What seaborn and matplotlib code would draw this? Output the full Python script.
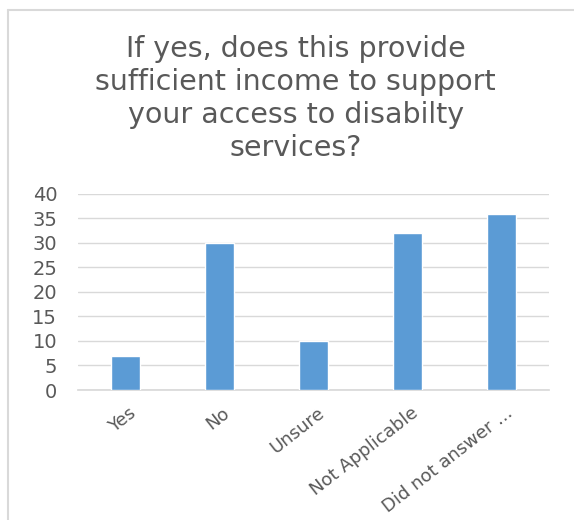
import matplotlib
matplotlib.use("Agg")
import matplotlib.pyplot as plt
from matplotlib.lines import Line2D
from matplotlib.transforms import ScaledTranslation
import seaborn as sns
import pandas as pd

categories = ["Yes", "No", "Unsure", "Not Applicable", "Did not answer ..."]
counts = [7, 30, 10, 32, 36]
y_ticks = [0, 5, 10, 15, 20, 25, 30, 35, 40]
title = "If yes, does this provide\nsufficient income to support\nyour access to disabilty\nservices?"

sns.set_theme(style="white")
plt.rcParams["font.family"] = ["DejaVu Sans"]
text_color = "#595959"

df = pd.DataFrame({"category": categories, "count": counts})

fig = plt.figure(figsize=(5.74, 5.2), dpi=100)
ax = fig.add_axes([0.136, 0.25, 0.82, 0.377])

sns.barplot(data=df, x="category", y="count", color="#5B9BD5", width=0.31,
            saturation=1, ax=ax, zorder=3)

ax.set_ylim(0, 40)
ax.set_yticks(y_ticks)
ax.set_xlim(-0.5, len(categories) - 0.5)
ax.grid(axis="y", color="#d9d9d9", linewidth=1, zorder=0)
ax.set_axisbelow(True)
for s in ["top", "right", "left"]:
    ax.spines[s].set_visible(False)
ax.spines["bottom"].set_color("#d9d9d9")
ax.set_xlabel("")
ax.set_ylabel("")
ax.tick_params(axis="y", labelsize=14, colors=text_color, length=0, pad=15)
ax.tick_params(axis="x", labelsize=13, colors=text_color, length=0, pad=10)
shift = ScaledTranslation(3 / 100, 0, fig.dpi_scale_trans)
for lbl in ax.get_xticklabels():
    lbl.set_rotation(38)
    lbl.set_ha("right")
    lbl.set_rotation_mode("anchor")
    lbl.set_transform(lbl.get_transform() + shift)

fig.text(0.515, 1 - 35/520, title, ha="center", va="top", fontsize=20.5,
         color=text_color, linespacing=1.22)

# chart frame
fig.add_artist(Line2D([8/574, 8/574], [0, 1 - 10/520], color="#d9d9d9", linewidth=1.5))
fig.add_artist(Line2D([8/574, 1], [1 - 10/520, 1 - 10/520], color="#d9d9d9", linewidth=1.5))

fig.savefig("out.png", dpi=100)
